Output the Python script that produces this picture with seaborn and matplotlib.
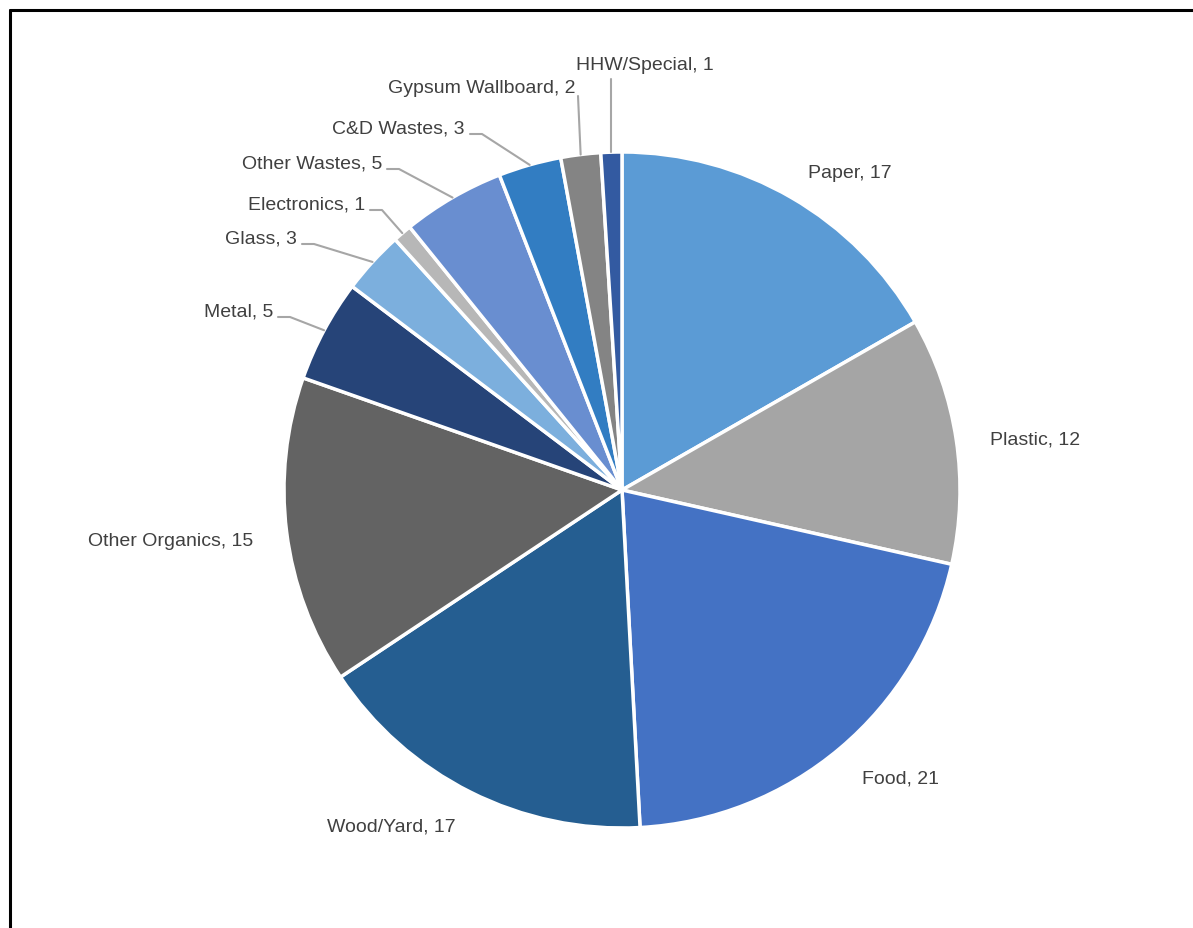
import numpy as np
import matplotlib
matplotlib.use("Agg")
import matplotlib.pyplot as plt
import seaborn as sns

# waste categories and their shares (%)
categories = ['Paper', 'Plastic', 'Food', 'Wood/Yard', 'Other Organics', 'Metal',
              'Glass', 'Electronics', 'Other Wastes', 'C&D Wastes', 'Gypsum Wallboard',
              'HHW/Special']
shares = [16.7, 11.8, 20.6, 16.5, 14.7, 4.9, 3.0, 0.9, 4.9, 3.0, 1.9, 1.0]
shown_values = [17, 12, 21, 17, 15, 5, 3, 1, 5, 3, 2, 1]
colors = ['#5B9BD5', '#A5A5A5', '#4472C4', '#255E91', '#636363', '#264478',
          '#7CAFDD', '#B7B7B7', '#698ED0', '#327DC2', '#848484', '#335AA1']

sns.set_style('white')
plt.rcParams['font.family'] = ['Liberation Sans Narrow', 'Liberation Sans', 'DejaVu Sans']

fig = plt.figure(figsize=(11.93, 9.29), dpi=100)
# pie centre ~ (622, 490) px, radius ~ 338 px
W, H = 1193, 929
r = 338
ax = fig.add_axes([(622 - r) / W, 1 - (491 + r) / H, 2 * r / W, 2 * r / H])

wedges, _ = ax.pie(shares, colors=colors, startangle=90, counterclock=False,
                   wedgeprops=dict(edgecolor='white', linewidth=2.5))
ax.set_xlim(-1, 1)
ax.set_ylim(-1, 1)
ax.set_aspect('equal')
ax.axis('off')

txt_color = '#404040'
fs = 14
dy = -4 / r  # small downward nudge of the label text

# big slices: label just outside the wedge middle
for i in range(5):
    w = wedges[i]
    ang = np.deg2rad((w.theta1 + w.theta2) / 2)
    x, y = 1.1 * np.cos(ang), 1.1 * np.sin(ang)
    ha = 'left' if x > 0 else 'right'
    ax.text(x, y + dy, f'{categories[i]}, {shown_values[i]}', ha=ha, va='center',
            fontsize=fs, color=txt_color, clip_on=False)

# small slices: labels stacked up-left with leader lines
label_pos = {
    'Metal': (273, 312),
    'Glass': (297, 239),
    'Electronics': (365, 205),
    'Other Wastes': (382, 164),
    'C&D Wastes': (465, 129),
    'Gypsum Wallboard': (575, 89),
}
for i in range(5, len(categories)):
    w = wedges[i]
    ang = np.deg2rad((w.theta1 + w.theta2) / 2)
    ex, ey = np.cos(ang), np.sin(ang)
    name = categories[i]
    if name == 'HHW/Special':
        tx, ty = (645 - 622) / r, (491 - 66) / r
        ax.text(tx, ty, f'{name}, {shown_values[i]}', ha='center', va='center',
                fontsize=fs, color=txt_color, clip_on=False)
        ax.plot([ex, ex], [ty - 14 / r, ey], color='#A6A6A6', lw=1.5, clip_on=False)
        continue
    px, py = label_pos[name]
    tx, ty = (px - 622) / r, (491 - py) / r
    ax.text(tx, ty, f'{name}, {shown_values[i]}', ha='right', va='center',
            fontsize=fs, color=txt_color, clip_on=False)
    if name == 'Gypsum Wallboard':
        ax.plot([tx + 3 / r, ex], [ty - 8 / r, ey], color='#A6A6A6', lw=1.5, clip_on=False)
    else:
        sx, sy = tx + 5 / r, ty - 6 / r
        ax.plot([sx, sx + 12 / r, ex], [sy, sy, ey], color='#A6A6A6', lw=1.5,
                clip_on=False)

# chart frame (only left and top edges visible in the crop)
fig.add_artist(plt.Line2D([9.5 / W, 9.5 / W], [0, 1 - 10.5 / H], color='black', lw=2.2))
fig.add_artist(plt.Line2D([9.5 / W, 1], [1 - 10.5 / H, 1 - 10.5 / H], color='black', lw=2.2))

fig.savefig('out.png', dpi=100)
